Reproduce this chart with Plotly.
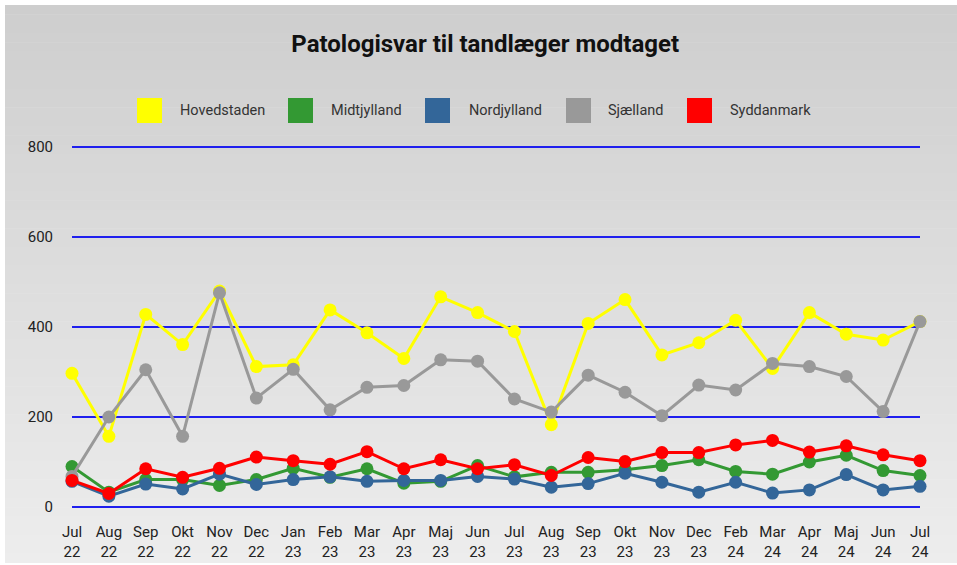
import plotly.graph_objects as go

months = ["Jul<br>22", "Aug<br>22", "Sep<br>22", "Okt<br>22", "Nov<br>22", "Dec<br>22",
          "Jan<br>23", "Feb<br>23", "Mar<br>23", "Apr<br>23", "Maj<br>23", "Jun<br>23",
          "Jul<br>23", "Aug<br>23", "Sep<br>23", "Okt<br>23", "Nov<br>23", "Dec<br>23",
          "Feb<br>24", "Mar<br>24", "Apr<br>24", "Maj<br>24", "Jun<br>24", "Jul<br>24"]

hovedstaden = [297, 157, 428, 361, 480, 312, 316, 438, 387, 330, 467, 432,
               390, 183, 408, 461, 338, 365, 415, 308, 432, 384, 371, 412]
midtjylland = [90, 33, 61, 61, 48, 61, 86, 66, 85, 53, 57, 92,
               67, 77, 77, 83, 92, 105, 79, 73, 100, 115, 81, 70]
nordjylland = [57, 24, 51, 40, 73, 50, 61, 67, 57, 59, 59, 68,
               62, 44, 52, 75, 55, 33, 55, 31, 38, 72, 38, 46]
sjaelland = [68, 200, 305, 157, 476, 242, 306, 216, 266, 270, 327, 324,
             240, 211, 293, 255, 203, 271, 260, 319, 312, 290, 212, 412]
syddanmark = [59, 30, 85, 66, 86, 111, 103, 95, 123, 85, 105, 85,
              94, 70, 110, 101, 121, 121, 138, 148, 122, 136, 116, 103]

names = ["Hovedstaden", "Midtjylland", "Nordjylland", "Sjælland", "Syddanmark"]
colors = ["#ffff00", "#339933", "#336699", "#999999", "#ff0000"]
series = [hovedstaden, midtjylland, nordjylland, sjaelland, syddanmark]
y_ticks = [0, 200, 400, 600, 800]

W, H = 957, 565
L, R, T, B = 72, 920, 143, 511  # plot area in pixels
Y0PIX, Y800PIX = 507, 147       # where 0 and 800 sit
PPU = (Y0PIX - Y800PIX) / 800.0
YMIN = -(B - Y0PIX) / PPU
YMAX = (Y0PIX - T) / PPU


def px2x(px):
    return (px - L) / (R - L)


def py2y(py):
    return (B - py) / (B - T)


fig = go.Figure()
for name, color, vals in zip(names, colors, series):
    fig.add_trace(go.Scatter(
        x=list(range(len(months))), y=vals, name=name, mode="lines+markers",
        line=dict(color=color, width=3),
        marker=dict(color=color, size=13),
        cliponaxis=False, showlegend=False,
    ))

shapes = []
# gradient background panel
x0, x1 = 5, 958
y0, y1 = 5, 563
n = 60
top = (206, 206, 206)
bot = (237, 237, 237)
for i in range(n):
    ya = y0 + (y1 - y0) * i / n
    yb = y0 + (y1 - y0) * (i + 1) / n + 0.5
    t = (i + 0.5) / n
    c = tuple(round(top[k] + (bot[k] - top[k]) * t) for k in range(3))
    shapes.append(dict(type="rect", xref="paper", yref="paper",
                       x0=px2x(x0), x1=px2x(x1), y0=py2y(ya), y1=py2y(min(yb, y1)),
                       line=dict(width=0), fillcolor="rgb(%d,%d,%d)" % c,
                       layer="below"))

# manual legend
legend_sq = [137, 288, 425, 566, 687]
legend_tx = [178, 329, 467, 606, 728]
annotations = []
for name, color, sx, tx in zip(names, colors, legend_sq, legend_tx):
    shapes.append(dict(type="rect", xref="paper", yref="paper",
                       x0=px2x(sx), x1=px2x(sx + 25), y0=py2y(98), y1=py2y(123),
                       line=dict(width=0), fillcolor=color, layer="above"))
    annotations.append(dict(xref="paper", yref="paper", x=px2x(tx), y=py2y(110.5),
                            text=name, showarrow=False, xanchor="left", yanchor="middle",
                            font=dict(family="Roboto", size=14.5, color="#333333")))

fig.update_layout(
    width=W, height=H,
    margin=dict(l=L, r=W - R, t=T, b=H - B, pad=0, autoexpand=False),
    paper_bgcolor="white", plot_bgcolor="rgba(0,0,0,0)",
    title=dict(text="<b>Patologisvar til tandlæger modtaget</b>", x=0.507, xanchor="center",
               y=1 - 44 / H, yanchor="middle", yref="container",
               font=dict(family="Roboto", size=24, color="#111111")),
    shapes=shapes, annotations=annotations,
    showlegend=False,
    font=dict(family="Roboto", size=15, color="#222222"),
)
fig.update_xaxes(
    tickmode="array", tickvals=list(range(len(months))), ticktext=months,
    range=[0, len(months) - 1], showgrid=False, zeroline=False, showline=False,
    automargin=False,
    ticks="", ticklabelstandoff=10, tickfont=dict(family="Roboto", size=15, color="#222222"),
)
fig.update_yaxes(
    range=[YMIN, YMAX], tickvals=y_ticks, showgrid=True, gridcolor="#1f1fee", gridwidth=1.5,
    zeroline=False, showline=False, ticks="", ticklabelstandoff=18, automargin=False,
    tickfont=dict(family="Roboto", size=15, color="#222222"),
)

fig.write_html("out.html",
               config={"displayModeBar": False},
               post_script="document.body.style.margin='0';document.body.style.overflow='hidden';")
